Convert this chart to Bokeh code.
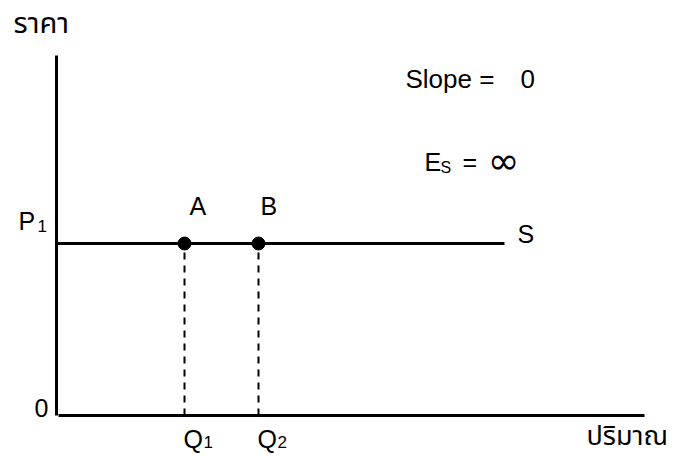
from bokeh.plotting import figure
from bokeh.models import Range1d
from bokeh.core.properties import value
from bokeh.embed import file_html
from bokeh.resources import INLINE

# --- data (quantity / price units; 1 unit = 40 px) ---
Q1 = 3.2
Q2 = 5.05
P1 = 4.3
S_END = 11.2          # end of supply line
X_AXIS_MAX = 14.7
Y_AXIS_MAX = 9.0

point_names = ["A", "B"]
point_q = [Q1, Q2]
point_p = [P1, P1]

q_labels = ["Q", "Q"]
q_subs = ["1", "2"]

FONT = "Liberation Sans"
THAI = "Noto Sans Thai, Tahoma, Loma, Garuda, sans-serif"
TY = 0.225  # baseline correction for text

p = figure(width=678, height=456, output_backend="svg", toolbar_location=None,
           x_range=Range1d(-1.4, 15.55), y_range=Range1d(-1.025, 10.375),
           min_border=0, min_border_left=0, min_border_right=0,
           min_border_top=0, min_border_bottom=0)
p.axis.visible = False
p.grid.visible = False
p.outline_line_color = None
p.background_fill_color = "white"
p.border_fill_color = "white"

# axes
p.line([0, 0], [0, Y_AXIS_MAX], line_color="black", line_width=3)
p.line([0.05, X_AXIS_MAX], [0, 0], line_color="black", line_width=3)

# supply curve
p.line([0, S_END], [P1, P1], line_color="black", line_width=3)

# dashed drop lines
for q in point_q:
    p.line([q, q], [0, P1], line_color="black", line_width=2, line_dash="7 6")

# points
p.scatter(point_q, point_p, size=13, fill_color="black", line_color="black")

def txt(x, y, s, size, align="left", baseline="alphabetic", font=FONT):
    p.text(x=[x], y=[y + TY], text=[s], text_font=value(font),
           text_font_size=f"{size}px", text_align=align,
           text_baseline=baseline, text_color="black")

# point labels
txt(Q1 + 0.125, 5.025, point_names[0], 25)
txt(Q2 + 0.05, 5.025, point_names[1], 25)

# axis labels
txt(-1.075, 9.575, "ราคา", 29, font=THAI)
txt(13.25, -0.75, "ปริมาณ", 27, font=THAI)
txt(-0.2, -0.025, "0", 25, align="right")

# P1
txt(-0.95, 4.65, "P", 25)
txt(-0.475, 4.525, "1", 17)

# Q1, Q2
for q, s, sub in zip(point_q, q_labels, q_subs):
    txt(q - 0.025, -0.8, s, 25)
    txt(q + 0.475, -0.875, sub, 17)

# S label
txt(11.525, 4.325, "S", 25)

# Slope text
txt(8.725, 8.2, "Slope =", 26)
txt(11.6, 8.2, "0", 26)

# E_S = infinity
txt(9.2, 6.125, "E", 25)
txt(9.6, 5.975, "S", 16)
txt(10.15, 6.125, "=", 25)
txt(10.78, 6.15, "∞", 38, font="DejaVu Sans")

open("out.html", "w").write(file_html(p, INLINE))
